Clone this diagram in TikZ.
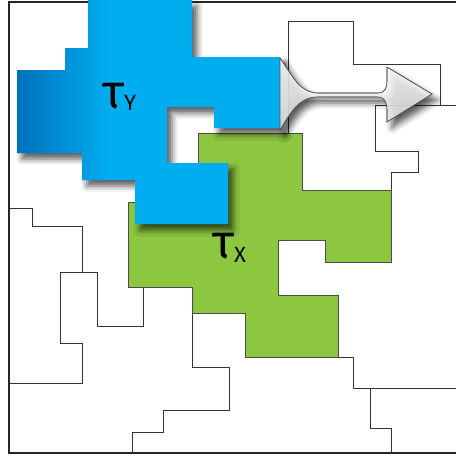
\documentclass[tikz,border=0pt]{standalone}
\usepackage{fontspec}
\newfontfamily\greekfont{Fira Sans}
\usetikzlibrary{shadows.blur}
\definecolor{tauYblue}{HTML}{00AEEF}
\definecolor{tauYdark}{HTML}{0072BC}
\definecolor{tauXgreen}{HTML}{8DC63F}

% outline of the blue region
\newcommand{\regionYpath}{(88,0) -- (192,0) -- (192,57) -- (280,57) -- (280,128) -- (214,128) -- (214,107) -- (167,107) -- (167,163) -- (228,163) -- (228,224) -- (135,224) -- (135,180) -- (82,180) -- (82,153) -- (17,153) -- (17,70) -- (65,70) -- (65,48) -- (88,48) -- cycle}

\begin{document}
\begin{tikzpicture}[x=1pt, y=-1pt,
    frame/.style={draw=black!85, line width=2pt},
    cellline/.style={draw=black!80, line width=0.8pt},
    regionX/.style={fill=tauXgreen, draw=black!70, line width=0.8pt},
    softshadow/.style={blur shadow={shadow xshift=5pt, shadow yshift=-6pt, shadow blur radius=6pt, shadow opacity=65}},
    shiftarrow/.style={top color=white, bottom color=black!12, fill opacity=0.85, draw=black!65, line width=0.6pt},
    taulabel/.style={font=\greekfont, inner sep=0pt, anchor=base west}
]
\useasboundingbox (0,0) rectangle (456,456);

% frame
\draw[frame] (456,1.5) -- (8.5,1.5) -- (8.5,452.5) -- (456,452.5);

% cells of the partition
\draw[cellline] (8,208) -- (32,208) -- (32,226) -- (82,226) -- (82,272);
\draw[cellline] (97,326) -- (97,272) -- (60,272) -- (60,343) -- (82,343) -- (82,383) -- (8,383);
\draw[cellline] (97,326) -- (143,326) -- (143,287);
\draw[cellline] (288,133) -- (288,21) -- (353,21) -- (353,64) -- (440,64) -- (440,105);
\draw[cellline] (375,105) -- (456,105);
\draw[cellline] (375,105) -- (375,151) -- (418,151) -- (418,172) -- (391,172) -- (391,190);
\draw[cellline] (338,357) -- (353,357) -- (353,388) -- (456,388);
\draw[cellline] (370,388) -- (370,428) -- (391,428) -- (391,453);
\draw[cellline] (192,313) -- (192,367) -- (229,367) -- (229,410) -- (163,410) -- (163,432) -- (132,432) -- (132,453);

% region tau_X
\draw[regionX] (128,202) -- (198,202) -- (198,133) -- (302,133) -- (302,190) -- (391,190) -- (391,262) -- (325,262) -- (325,240) -- (278,240) -- (278,295) -- (338,295) -- (338,357) -- (245,357) -- (245,313) -- (192,313) -- (192,287) -- (128,287) -- cycle;

% region tau_Y with shadow and gradient
\fill[tauYblue, softshadow] \regionYpath;
\begin{scope}
  \clip \regionYpath;
  \shade[left color=tauYdark, right color=tauYblue] (17,0) rectangle (110,230);
\end{scope}

% shift arrow
\shade[shiftarrow, softshadow] (280,58) .. controls (295,80) and (300,92) .. (318,93) -- (378,93) .. controls (385,93) and (387,88) .. (387,80) -- (387,67) -- (432,94) -- (387,122) -- (387,110) .. controls (387,102) and (384,97) .. (378,97) -- (318,97) .. controls (300,97) and (292,110) .. (280,130) -- cycle;
\draw[draw=black!65, line width=0.6pt] (280,58) .. controls (295,80) and (300,92) .. (318,93) -- (378,93) .. controls (385,93) and (387,88) .. (387,80) -- (387,67) -- (432,94) -- (387,122) -- (387,110) .. controls (387,102) and (384,97) .. (378,97) -- (318,97) .. controls (300,97) and (292,110) .. (280,130);

% labels
\node[taulabel] (tauY) at (102,108) {\fontsize{48}{48}\selectfont τ\fontsize{22}{22}\selectfont\raisebox{-2pt}{Y}};
\node[taulabel] (tauX) at (212,258) {\fontsize{48}{48}\selectfont τ\fontsize{22}{22}\selectfont\raisebox{-4pt}{X}};
\end{tikzpicture}
\end{document}
